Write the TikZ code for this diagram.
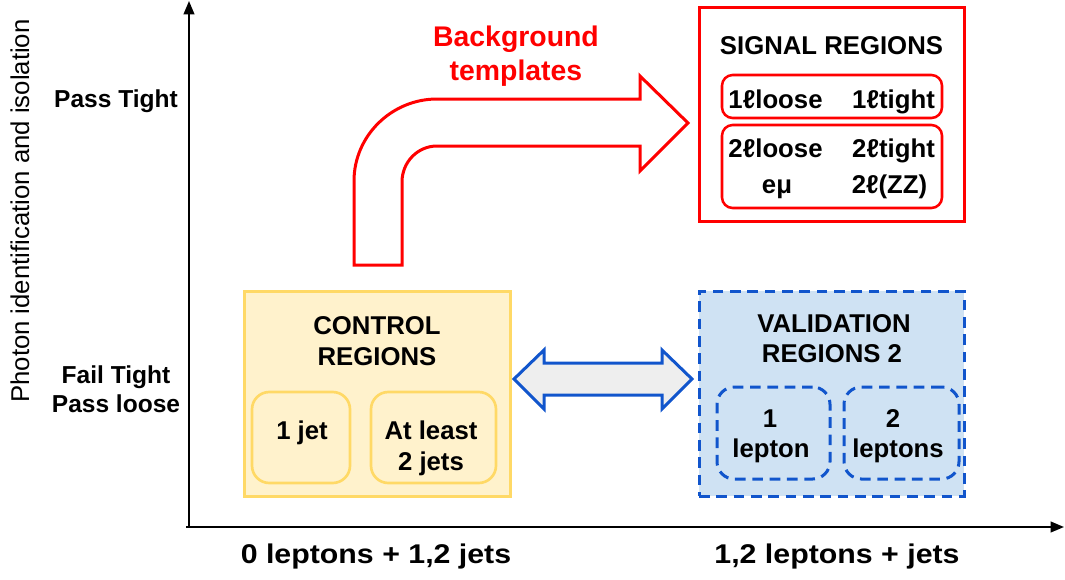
\documentclass[tikz,border=0pt]{standalone}
\usepackage{fontspec}
\setmainfont{Liberation Sans}
\usetikzlibrary{arrows.meta,fit}
\definecolor{sigred}{HTML}{FF0000}
\definecolor{cfill}{HTML}{FFF2CC}
\definecolor{cline}{HTML}{FFD966}
\definecolor{vfill}{HTML}{CFE2F3}
\definecolor{vline}{HTML}{1155CC}
\definecolor{gfill}{HTML}{EEEEEE}
\begin{document}
\begin{tikzpicture}[x=0.75pt,y=-0.75pt,
  lbl/.style={font=\bfseries\fontsize{19.3}{23}\selectfont, inner sep=0pt, anchor=base},
  axl/.style={font=\bfseries\fontsize{18.4}{22}\selectfont, inner sep=0pt, anchor=base},
  xaxl/.style={font=\bfseries\fontsize{20.3}{24}\selectfont, inner sep=0pt, anchor=base},
  redtxt/.style={font=\bfseries\fontsize{21.3}{25}\selectfont, text=sigred, inner sep=0pt, anchor=base},
  fitbox/.style={inner sep=0pt, outer sep=0pt},
  sigbox/.style={fitbox, draw=sigred, line width=2.25pt},
  subsig/.style={fitbox, draw=sigred, line width=1.9pt, rounded corners=8pt},
  ctrlbox/.style={fitbox, draw=cline, fill=cfill, line width=2.25pt},
  subctrl/.style={fitbox, draw=cline, line width=2pt, rounded corners=13pt},
  valbox/.style={fitbox, draw=vline, fill=vfill, line width=2.25pt, dash pattern=on 8pt off 5pt},
  subval/.style={fitbox, draw=vline, line width=2.25pt, dash pattern=on 8pt off 5pt, rounded corners=13pt},
  axis/.style={line width=1.5pt, -{Triangle[width=8pt,length=10pt]}}
]
\useasboundingbox (0,0) rectangle (1065,579);

% axes
\coordinate (origin) at (189,527);
\coordinate (xstart) at (186,527);
\coordinate (ytop) at (189,1);
\coordinate (xend) at (1064,527);
\draw[axis] (origin) -- (ytop);
\draw[axis] (xstart) -- (xend);

% axis texts
\node[font=\fontsize{19.3}{23}\selectfont, rotate=90, anchor=base, inner sep=0pt] (ylabel) at (29,211) {Photon identification and isolation};
\node[axl] (passtight) at (116,107) {Pass Tight};
\node[axl] (failtight) at (116,383) {Fail Tight};
\node[axl] (passloose) at (116,412) {Pass loose};
\node[xaxl] (xlab1) at (376,563) {\scalebox{1.12}[1]{0 leptons + 1,2 jets}};
\node[xaxl] (xlab2) at (837,563) {\scalebox{1.12}[1]{1,2 leptons + jets}};

% signal regions
\node[sigbox, fit={(699,7) (964,221)}] (sig) {};
\node[lbl] (sigtitle) at (831.5,54) {SIGNAL REGIONS};
\node[subsig, fit={(722,75) (942,118)}] (sig1) {};
\node[subsig, fit={(722,125) (942,208)}] (sig2) {};
\node[lbl] (oneloose) at (775.5,108) {1ℓloose};
\node[lbl] (onetight) at (893.5,108) {1ℓtight};
\node[lbl] (twoloose) at (775.5,157) {2ℓloose};
\node[lbl] (twotight) at (893.5,157) {2ℓtight};
\node[lbl] (emu) at (777,193) {eμ};
\node[lbl] (twozz) at (889.5,193) {2ℓ(ZZ)};

% background templates arrow
\draw[draw=sigred, line width=2.25pt, line join=miter, fill=white]
  (354,265) -- (354,181) .. controls (354,135.7) and (391.7,99) .. (437,99)
  -- (640,99) -- (640,76) -- (688,123) -- (640,171) -- (640,146) -- (437,146)
  .. controls (417.7,146) and (402,162) .. (402,182) -- (402,265) -- cycle;
\node[redtxt] (bgt1) at (516,46) {Background};
\node[redtxt] (bgt2) at (516,80) {templates};

% control regions
\node[ctrlbox, fit={(244,291) (510,496)}] (ctrl) {};
\node[lbl] (ctrlt1) at (377,334) {CONTROL};
\node[lbl] (ctrlt2) at (377,365) {REGIONS};
\node[subctrl, fit={(252,392) (350,483)}] (ctrlA) {};
\node[subctrl, fit={(371,392) (496,483)}] (ctrlB) {};
\node[lbl] (onejet) at (302,439) {1 jet};
\node[lbl] (atleast) at (431,439) {At least};
\node[lbl] (twojets) at (431,470) {2 jets};

% validation regions
\node[valbox, fit={(699,291) (964,496)}] (val) {};
\node[lbl] (valt1) at (834,332) {VALIDATION};
\node[lbl] (valt2) at (832,362) {REGIONS 2};
\node[subval, fit={(717,387) (830,479)}] (valA) {};
\node[subval, fit={(844,387) (959,479)}] (valB) {};
\node[lbl] (vone) at (770,427) {1};
\node[lbl] (vlepton) at (771,457) {lepton};
\node[lbl] (vtwo) at (893,427) {2};
\node[lbl] (vleptons) at (898,457) {leptons};

% double arrow between control and validation
\draw[draw=vline, fill=gfill, line width=2.25pt, line join=miter]
  (514,379) -- (544,350) -- (544,363) -- (662,363) -- (662,350) -- (692,379)
  -- (662,409) -- (662,395) -- (544,395) -- (544,409) -- cycle;
\end{tikzpicture}
\end{document}
